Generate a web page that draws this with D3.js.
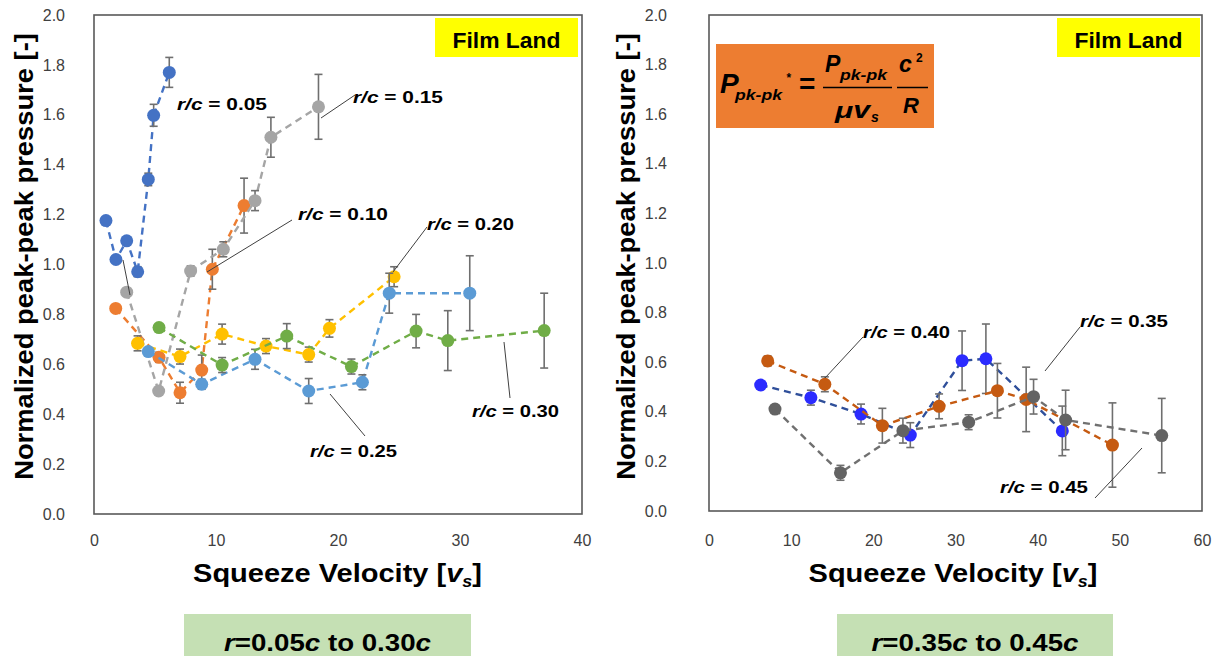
<!DOCTYPE html>
<html><head><meta charset="utf-8">
<script src="https://cdn.jsdelivr.net/npm/d3@7/dist/d3.min.js"></script>
<style>body{margin:0;background:#fff}svg{display:block}</style>
</head><body>
<svg id="c" width="1224" height="657"></svg>
<script>
// ---------- DATA ----------
const xTicksLeft = [0, 10, 20, 30, 40];
const xTicksRight = [0, 10, 20, 30, 40, 50, 60];
const yTicks = [0, 0.2, 0.4, 0.6, 0.8, 1.0, 1.2, 1.4, 1.6, 1.8, 2.0];

// Left panel: r = 0.05c to 0.30c
const rc005_x = [0.98, 1.80, 2.68, 3.58, 4.45, 4.89, 6.17];
const rc005_y = [1.176, 1.02, 1.095, 0.971, 1.341, 1.598, 1.770];
const rc005_e = [0, 0, 0, 0.02, 0.025, 0.044, 0.06];

const rc010_x = [1.78, 5.33, 7.05, 8.83, 9.70, 12.3];
const rc010_y = [0.824, 0.628, 0.486, 0.577, 0.981, 1.236];
const rc010_e = [0, 0.02, 0.042, 0.06, 0.08, 0.11];

const rc015_x = [2.68, 5.30, 7.92, 10.6, 13.2, 14.5, 18.4];
const rc015_y = [0.889, 0.493, 0.974, 1.061, 1.256, 1.51, 1.632];
const rc015_e = [0, 0, 0.02, 0.03, 0.04, 0.08, 0.13];

const rc020_x = [3.57, 7.05, 10.5, 14.1, 17.6, 19.3, 24.6];
const rc020_y = [0.684, 0.631, 0.721, 0.673, 0.639, 0.744, 0.951];
const rc020_e = [0.03, 0.03, 0.04, 0.03, 0.03, 0.035, 0.04];

const rc025_x = [4.45, 8.83, 13.2, 17.6, 22.0, 24.2, 30.8];
const rc025_y = [0.651, 0.52, 0.62, 0.493, 0.528, 0.885, 0.885];
const rc025_e = [0, 0.02, 0.04, 0.05, 0.03, 0.08, 0.15];

const rc030_x = [5.33, 10.5, 15.8, 21.1, 26.4, 29.0, 36.9];
const rc030_y = [0.747, 0.597, 0.713, 0.591, 0.733, 0.695, 0.735];
const rc030_e = [0, 0.03, 0.05, 0.03, 0.067, 0.12, 0.15];

// Right panel: r = 0.35c to 0.45c
const rc035_x = [6.29, 12.4, 18.5, 24.5, 30.8, 33.7, 43.0];
const rc035_y = [0.508, 0.457, 0.391, 0.306, 0.606, 0.614, 0.323];
const rc035_e = [0, 0.03, 0.04, 0.05, 0.12, 0.14, 0.10];

const rc040_x = [7.14, 14.1, 21.1, 28.0, 35.1, 38.6, 49.1];
const rc040_y = [0.605, 0.511, 0.344, 0.422, 0.485, 0.450, 0.266];
const rc040_e = [0.02, 0.03, 0.07, 0.05, 0.11, 0.13, 0.17];

const rc045_x = [8.03, 16.0, 23.6, 31.6, 39.5, 43.4, 55.1];
const rc045_y = [0.411, 0.154, 0.324, 0.358, 0.461, 0.367, 0.304];
const rc045_e = [0, 0.03, 0.05, 0.03, 0.07, 0.12, 0.15];

const leftLabels = ["0.05", "0.10", "0.15", "0.20", "0.25", "0.30"];
const rightLabels = ["0.35", "0.40", "0.45"];

// ---------- DRAW ----------
const FONT = "'Liberation Sans', Arial, Helvetica, sans-serif";
const svg = d3.select("#c").attr("font-family", FONT);

function zip(xs, ys, es) { return xs.map((x, i) => ({ x, y: ys[i], e: es[i] })); }

function styledText(parent, x, y, parts, size, targetW, anchor, rotate) {
  const g = parent.append("g").attr("transform", `translate(${x},${y})` + (rotate ? ` rotate(${rotate})` : ""));
  const t = g.append("text").attr("font-size", size).attr("font-weight", "bold")
    .attr("text-anchor", anchor || "start").attr("fill", "#000");
  parts.forEach(p => {
    const ts = t.append("tspan").text(p.t);
    if (p.i) ts.attr("font-style", "italic");
    if (p.sub) ts.attr("font-size", p.sub).attr("dy", p.dy);
    if (p.back) ts.attr("dy", p.back);
  });
  if (targetW) {
    const w = t.node().getComputedTextLength();
    t.attr("transform", `scale(${targetW / w},1)`);
  }
  return g;
}

function panel(cfg) {
  const x = d3.scaleLinear().domain(cfg.xDomain).range([cfg.left, cfg.right]);
  const y = d3.scaleLinear().domain([0, 2]).range([cfg.bottom, cfg.top]);
  const g = svg.append("g");

  // axes (labels only)
  const ax = g.append("g").attr("transform", `translate(0,${cfg.bottom})`)
    .call(d3.axisBottom(x).tickValues(cfg.xTicks).tickSize(0).tickPadding(cfg.xPad).tickFormat(d3.format("d")));
  const ay = g.append("g").attr("transform", `translate(${cfg.left},0)`)
    .call(d3.axisLeft(y).tickValues(yTicks).tickSize(0).tickPadding(cfg.yPad).tickFormat(d3.format(".1f")));
  [ax, ay].forEach(a => {
    a.select(".domain").remove();
    a.selectAll("text").attr("font-size", 16).attr("font-family", FONT).attr("fill", "#404040");
  });

  // frame
  g.append("rect").attr("x", cfg.left).attr("y", cfg.top)
    .attr("width", cfg.right - cfg.left).attr("height", cfg.bottom - cfg.top)
    .attr("fill", "none").attr("stroke", "#595959").attr("stroke-width", 1.6);

  // series
  const line = d3.line().x(d => x(d.x)).y(d => y(d.y));
  cfg.series.forEach(s => {
    const data = s.data;
    g.append("path").datum(data).attr("d", line).attr("fill", "none")
      .attr("stroke", s.line || s.color).attr("stroke-width", 2.4).attr("stroke-dasharray", "7,5");
    const eb = g.append("g").attr("stroke", "#6f6f6f").attr("stroke-width", 1.6);
    data.filter(d => d.e > 0).forEach(d => {
      eb.append("line").attr("x1", x(d.x)).attr("x2", x(d.x)).attr("y1", y(d.y - d.e)).attr("y2", y(d.y + d.e));
      eb.append("line").attr("x1", x(d.x) - 4).attr("x2", x(d.x) + 4).attr("y1", y(d.y - d.e)).attr("y2", y(d.y - d.e));
      eb.append("line").attr("x1", x(d.x) - 4).attr("x2", x(d.x) + 4).attr("y1", y(d.y + d.e)).attr("y2", y(d.y + d.e));
    });
    g.append("g").selectAll("circle").data(data).join("circle")
      .attr("cx", d => x(d.x)).attr("cy", d => y(d.y)).attr("r", 6.5).attr("fill", s.color);
  });

  // leaders
  cfg.leaders.forEach(l => {
    g.append("line").attr("x1", l[0]).attr("y1", l[1]).attr("x2", l[2]).attr("y2", l[3])
      .attr("stroke", "#404040").attr("stroke-width", 1);
  });
  // series labels
  cfg.labels.forEach(l => {
    styledText(g, l.x, l.y, [{ t: "r/c", i: true }, { t: " = " + l.v }], 17, l.w, "start");
  });

  // Film Land box
  g.append("rect").attr("x", cfg.flX).attr("y", 18).attr("width", 143).attr("height", 39).attr("fill", "#FFFF00");
  styledText(g, cfg.flX + 71.5, 48, [{ t: "Film Land" }], 22, 108, "middle");

  // axis titles
  styledText(g, cfg.ytX, 256.5, [{ t: "Normalized peak-peak pressure [-]" }], 26, 447, "middle", -90);
  styledText(g, cfg.xtX, 582, [{ t: "Squeeze Velocity [" }, { t: "v", i: true }, { t: "s", i: true, sub: 16, dy: 5 }, { t: "]", back: -5 }], 26, 289, "middle");

  // bottom green box
  g.append("rect").attr("x", cfg.bx).attr("y", 614).attr("width", cfg.bw).attr("height", 42).attr("fill", "#C5E0B4");
  styledText(g, cfg.bx + cfg.bw / 2, 651, cfg.bText, 23, 207, "middle");
  return { x, y, g };
}

panel({
  xDomain: [0, 40], left: 94, right: 582, top: 15, bottom: 514, xTicks: xTicksLeft, xPad: 21, yPad: 29,
  series: [
    { color: "#4472C4", data: zip(rc005_x, rc005_y, rc005_e) },
    { color: "#ED7D31", data: zip(rc010_x, rc010_y, rc010_e) },
    { color: "#A5A5A5", data: zip(rc015_x, rc015_y, rc015_e) },
    { color: "#FFC000", data: zip(rc020_x, rc020_y, rc020_e) },
    { color: "#5B9BD5", data: zip(rc025_x, rc025_y, rc025_e) },
    { color: "#70AD47", data: zip(rc030_x, rc030_y, rc030_e) }
  ],
  leaders: [[321, 118, 355, 95], [292, 220, 207, 272], [427, 227, 393, 272], [330, 394, 365, 436], [504, 342, 510, 398], [123, 260, 130, 295]],
  labels: [
    { v: leftLabels[0], x: 177, y: 110, w: 90 },
    { v: leftLabels[1], x: 298, y: 220, w: 90 },
    { v: leftLabels[2], x: 353, y: 103, w: 90 },
    { v: leftLabels[3], x: 427, y: 230, w: 87 },
    { v: leftLabels[4], x: 310, y: 457, w: 87 },
    { v: leftLabels[5], x: 472, y: 417, w: 87 }
  ],
  flX: 435, ytX: 33, xtX: 337.5,
  bx: 184, bw: 287,
  bText: [{ t: "r", i: true }, { t: "=0.05" }, { t: "c", i: true }, { t: " to 0.30" }, { t: "c", i: true }]
});

panel({
  xDomain: [0, 60], left: 709, right: 1202, top: 15, bottom: 511, xTicks: xTicksRight, xPad: 24, yPad: 42,
  series: [
    { color: "#2B2BFF", line: "#2F4F9A", data: zip(rc035_x, rc035_y, rc035_e) },
    { color: "#C55A11", data: zip(rc040_x, rc040_y, rc040_e) },
    { color: "#636363", line: "#707070", data: zip(rc045_x, rc045_y, rc045_e) }
  ],
  leaders: [[863, 337, 825, 378], [1080, 327, 1045, 371], [1142, 448, 1095, 498]],
  labels: [
    { v: rightLabels[0], x: 1080, y: 327, w: 88 },
    { v: rightLabels[1], x: 863, y: 338, w: 87 },
    { v: rightLabels[2], x: 1000, y: 493, w: 88 }
  ],
  flX: 1057, ytX: 635, xtX: 953,
  bx: 837, bw: 276,
  bText: [{ t: "r", i: true }, { t: "=0.35" }, { t: "c", i: true }, { t: " to 0.45" }, { t: "c", i: true }]
});

// Formula box
const f = svg.append("g");
f.append("rect").attr("x", 716).attr("y", 44).attr("width", 218).attr("height", 84).attr("fill", "#ED7D31");
function ft(x, y, s, size, w) {
  const t = f.append("text").attr("x", x).attr("y", y).attr("font-size", size).attr("font-weight", "bold")
    .attr("font-style", "italic").attr("fill", "#000").text(s);
  if (w) {
    const cw = t.node().getComputedTextLength();
    t.attr("transform", `translate(${x},0) scale(${w / cw},1) translate(${-x},0)`);
  }
  return t;
}
ft(720, 93, "P", 28);
ft(735, 100, "pk-pk", 15, 47);
ft(786, 82, "*", 12);
f.append("text").attr("x", 799).attr("y", 93).attr("font-size", 28).attr("font-weight", "bold").text("=");
ft(825, 72, "P", 23);
ft(840, 80, "pk-pk", 14, 47);
f.append("line").attr("x1", 823).attr("x2", 892).attr("y1", 87.5).attr("y2", 87.5).attr("stroke", "#000").attr("stroke-width", 1.5);
ft(835, 118, "μv", 23, 35);
ft(871, 122, "s", 14);
ft(899, 72, "c", 23);
f.append("text").attr("x", 916).attr("y", 62).attr("font-size", 12).attr("font-weight", "bold").text("2");
f.append("line").attr("x1", 897).attr("x2", 928).attr("y1", 87.5).attr("y2", 87.5).attr("stroke", "#000").attr("stroke-width", 1.5);
ft(903, 113, "R", 22);
</script>
</body></html>
